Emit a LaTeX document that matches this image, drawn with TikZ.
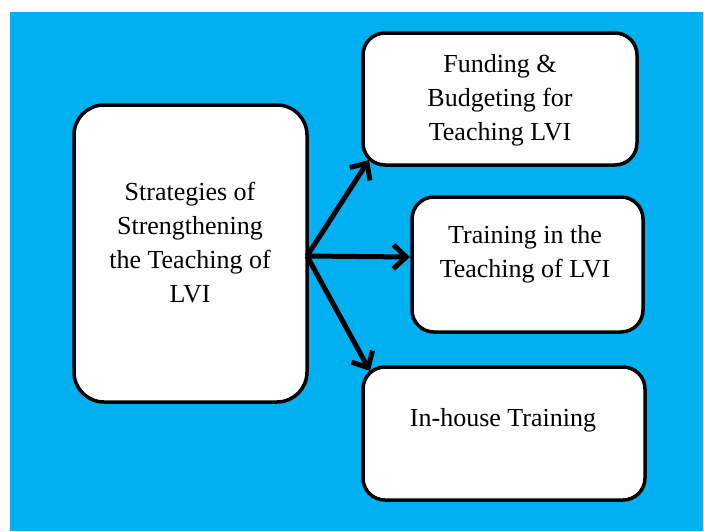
\documentclass[tikz,border=0pt]{standalone}
\usepackage{fontspec}
\newfontfamily\lblfont{Liberation Serif}
\usetikzlibrary{arrows.meta}
\definecolor{bg}{HTML}{00B0F0}
\begin{document}
\begin{tikzpicture}[x=1pt,y=-1pt,
  box/.style={draw=black, line width=3.5pt, fill=white, rounded corners=22pt, inner sep=0pt},
  lbl/.style={align=center, font=\lblfont\fontsize{26}{34}\selectfont, inner sep=0pt, text=black},
  arr/.style={line width=5pt, -{Straight Barb[length=13pt,width=24pt,line width=5pt]}}]
\useasboundingbox (0,0) rectangle (704,531);
\fill[bg] (10,12) rectangle (703,531);
\node[box, rounded corners=30pt, minimum width=233pt, minimum height=297pt] (main) at (190.5,253.5) {};
\node[box, minimum width=274pt, minimum height=132pt] (fund) at (500,99) {};
\node[box, minimum width=231pt, minimum height=135pt] (train) at (527.5,264.5) {};
\node[box, minimum width=282pt, minimum height=133pt] (house) at (504,433.5) {};
\node[lbl] (tmain) at (190,243) {Strategies of\\Strengthening\\the Teaching of\\LVI};
\node[lbl] (tfund) at (500,100) {Funding \&\\Budgeting for\\Teaching LVI};
\node[lbl] (ttrain) at (525,254) {Training in the\\Teaching of LVI};
\node[lbl] (thouse) at (503,420) {In-house Training};
\coordinate (hub) at (307,256);
\coordinate (e1) at (369,160);
\coordinate (e2) at (410,257);
\coordinate (e3) at (370,371);
\draw[arr] (hub) -- (e1);
\draw[arr] (hub) -- (e2);
\draw[arr] (hub) -- (e3);
\end{tikzpicture}
\end{document}
